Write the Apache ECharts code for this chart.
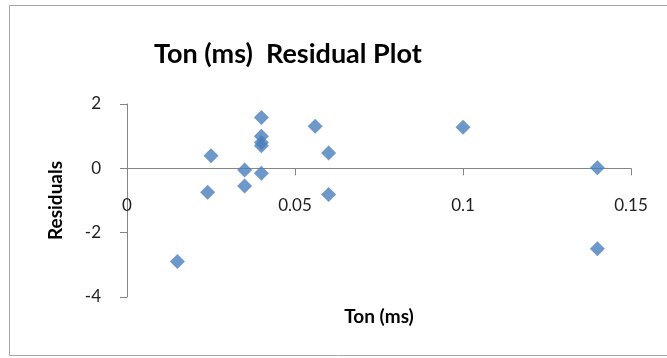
<!DOCTYPE html>
<html>
<head>
<meta charset="utf-8">
<script src="https://cdn.jsdelivr.net/npm/echarts@6/dist/echarts.min.js"></script>
<style>
html,body{margin:0;padding:0;background:#fff;}
#c{width:667px;height:358px;}
</style>
</head>
<body>
<div id="c"></div>
<script>
const titleText = 'Ton (ms)  Residual Plot';
const xName = 'Ton (ms)';
const yName = 'Residuals';
const tonMs = [0.015, 0.024, 0.025, 0.035, 0.035, 0.04, 0.04, 0.04, 0.04, 0.04, 0.056, 0.06, 0.06, 0.1, 0.14, 0.14];
const residuals = [-2.9, -0.74, 0.39, -0.05, -0.55, 1.58, 1.0, 0.8, 0.7, -0.15, 1.31, 0.48, -0.81, 1.28, 0.02, -2.5];
const xTicks = { min: 0, max: 0.15, interval: 0.05 };
const yTicks = { min: -4, max: 2, interval: 2 };

const points = tonMs.map((x, i) => [x, residuals[i]]);
const font = 'Lato, "Open Sans", sans-serif';
const gridTop = 104, gridBottom = 61, chartH = 358;
const plotH = chartH - gridTop - gridBottom;
// distance from bottom of plot to the zero line
const zeroOffset = plotH * (0 - yTicks.min) / (yTicks.max - yTicks.min);

const chart = echarts.init(document.getElementById('c'), null, { renderer: 'canvas' });
chart.setOption({
  animation: false,
  backgroundColor: '#ffffff',
  graphic: [{
    type: 'rect', silent: true,
    shape: { x: 9.5, y: 5.5, width: 700, height: 350 },
    style: { fill: 'none', stroke: '#a6a6a6', lineWidth: 1 }
  }],
  title: {
    text: titleText, left: 149, top: 36,
    textStyle: { fontFamily: font, fontWeight: 'bold', fontSize: 27, color: '#000000' }
  },
  grid: { left: 127, right: 36, top: gridTop, bottom: gridBottom, containLabel: false, outerBoundsMode: 'none' },
  xAxis: {
    type: 'value', min: xTicks.min, max: xTicks.max, interval: xTicks.interval,
    offset: -zeroOffset,
    name: xName, nameLocation: 'middle', nameGap: 139,
    nameTextStyle: { fontFamily: font, fontWeight: 'bold', fontSize: 19, color: '#000' },
    axisLine: { onZero: false, lineStyle: { color: '#868686', width: 1 } },
    axisTick: { show: true, length: 7, lineStyle: { color: '#868686' } },
    axisLabel: { margin: 29, fontFamily: font, fontSize: 17, color: '#222',
      formatter: v => String(+v.toFixed(2)) },
    splitLine: { show: false }
  },
  yAxis: {
    type: 'value', min: yTicks.min, max: yTicks.max, interval: yTicks.interval,
    name: yName, nameLocation: 'middle', nameGap: 62, nameRotate: 90,
    nameTextStyle: { fontFamily: font, fontWeight: 'bold', fontSize: 19, color: '#000' },
    axisLine: { show: true, onZero: false, lineStyle: { color: '#868686', width: 1 } },
    axisTick: { show: true, length: 7, lineStyle: { color: '#868686' } },
    axisLabel: { margin: 26, fontFamily: font, fontSize: 17, color: '#222' },
    splitLine: { show: false }
  },
  series: [{
    type: 'scatter', data: points, symbol: 'diamond', symbolSize: 15,
    itemStyle: { color: '#4A7EBB' }
  }]
});
</script>
</body>
</html>
